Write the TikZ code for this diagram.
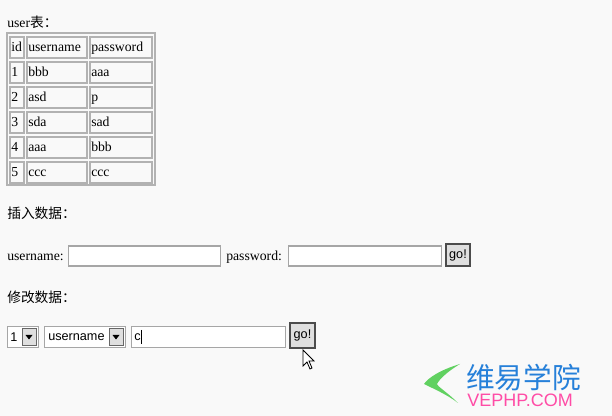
\documentclass[tikz,border=0pt]{standalone}
\usepackage{fontspec}
\setmainfont{Liberation Serif}
\setsansfont{Liberation Sans}
\newfontfamily\cjk{Noto Sans CJK SC}
\begin{document}
\begin{tikzpicture}[x=0.75pt,y=-0.75pt,
  txt/.style={font=\fontsize{10.3}{12}\selectfont,inner sep=0,anchor=west},
  cell/.style={draw=gray!60,line width=0.9pt},
  box/.style n args={2}{minimum width={#1*0.75pt},minimum height={#2*0.75pt},inner sep=0},
  inbox/.style={draw=gray!70,fill=white,line width=0.9pt},
  btn/.style={draw=black!70,fill=gray!25,line width=0.8pt,font=\sffamily\fontsize{9.5}{10}\selectfont,inner sep=0},
  arrbtn/.style={draw=black!60,fill=gray!25,line width=0.6pt}]
\fill[gray!5] (0,0) rectangle (612,416);
\useasboundingbox (0,0) rectangle (612,416);
\node[txt] (t0) at (7,22) {user{\cjk 表：}};
\draw[gray!60,line width=0.9pt] (7,33) rectangle (155,185);
\foreach \y/\a/\b/\c [count=\i] in {37/id/username/password,62/1/bbb/aaa,87/2/asd/p,112/3/sda/sad,137/4/aaa/bbb,162/5/ccc/ccc}{
  \draw[cell] (10,\y) rectangle (24,\y+21);
  \draw[cell] (27,\y) rectangle (87,\y+21);
  \draw[cell] (90,\y) rectangle (152,\y+21);
  \node[txt] (a\i) at (11,\y+11) {\strut\a};
  \node[txt] (b\i) at (28,\y+11) {\strut\b};
  \node[txt] (c\i) at (91,\y+11) {\strut\c};
}
\node[txt] (ins) at (7,213) {\cjk 插入数据：};
\node[txt] (ul) at (7,257) {username:};
\node[inbox,box={152}{20},anchor=west] (ub) at (68,256) {};
\node[txt] (pl) at (226,257) {password:};
\node[inbox,box={153}{20},anchor=west] (pb) at (288,256) {};
\node[btn,box={24}{22}] (g1) at (458,255) {go!};
\node[txt] (mod) at (7,297) {\cjk 修改数据：};
\node[inbox,box={31}{21},anchor=west] (s1) at (7,337) {};
\node[txt,font=\sffamily\fontsize{9.5}{10}\selectfont] at (10,337) {1};
\node[arrbtn,box={14}{17}] (s1a) at (29,337) {};
\fill (25.5,335) -- (32.5,335) -- (29,339.5) -- cycle;
\node[inbox,box={81}{21},anchor=west] (s2) at (44,337) {};
\node[txt,font=\sffamily\fontsize{9.5}{10}\selectfont] at (48,337) {username};
\node[arrbtn,box={14}{17}] (s2a) at (116,337) {};
\fill (112.5,335) -- (119.5,335) -- (116,339.5) -- cycle;
\node[inbox,box={154}{21},anchor=west] (tb) at (131,337) {};
\node[txt,font=\sffamily\fontsize{9.5}{10}\selectfont] at (134,337) {c};
\draw (141,330) -- (141,344);
\node[btn,box={25}{25},line width=1.2pt] (g2) at (302.5,335.5) {go!};
\draw[fill=white,line width=0.6pt] (303,350) -- (303,366) -- (307,362) -- (310,369) -- (312,368) -- (309,361) -- (314,361) -- cycle;
% logo
\fill[green!55!gray!80] (460,364) .. controls (440,370) and (428,378) .. (424,384)
  .. controls (432,388) and (448,395) .. (458,403) .. controls (447,392) and (438,387) .. (437,384)
  .. controls (440,378) and (450,370) .. (460,364) -- cycle;
\node[inner sep=0,anchor=west,font=\cjk\fontsize{21.5}{22}\selectfont,text=blue!50!cyan!70!gray] (lg) at (466,378) {维易学院};
\node[inner sep=0,anchor=west,font=\sffamily\fontsize{13.5}{14}\selectfont,text=red!50!magenta!70!white] (lw) at (467,400) {VEPHP.COM};
\end{tikzpicture}
\end{document}
